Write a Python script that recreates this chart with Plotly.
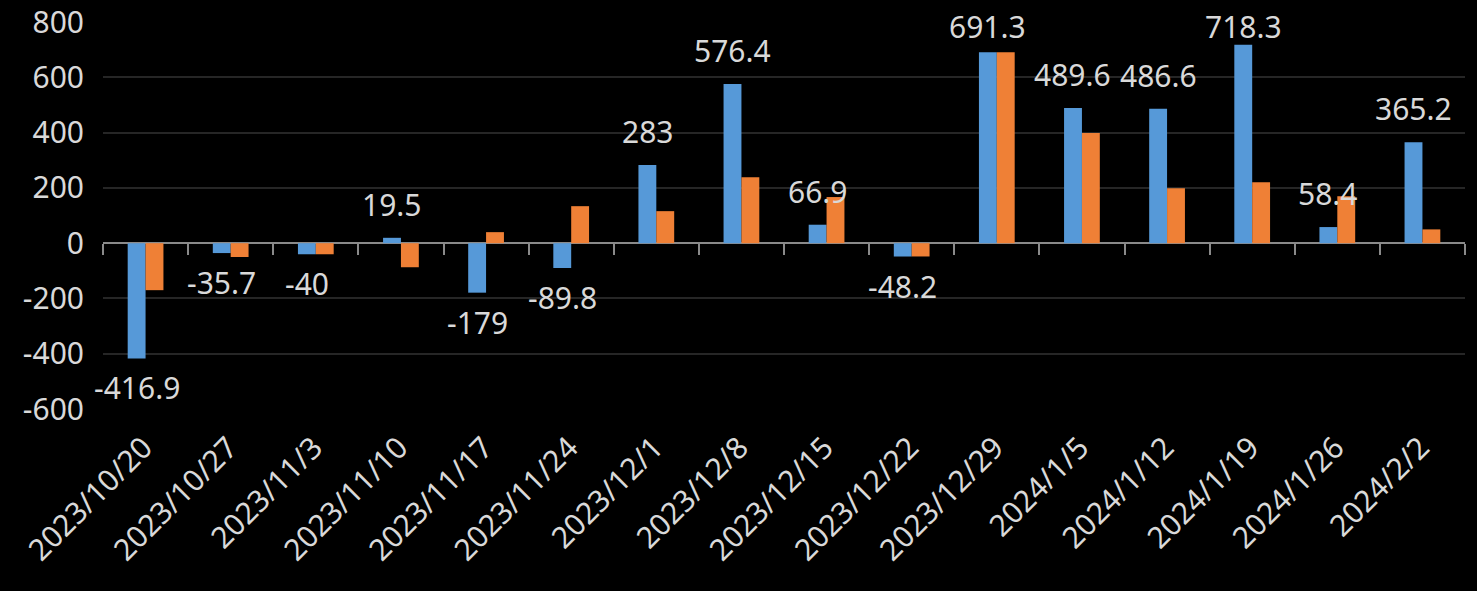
import plotly.graph_objects as go

dates = ["2023/10/20", "2023/10/27", "2023/11/3", "2023/11/10", "2023/11/17",
         "2023/11/24", "2023/12/1", "2023/12/8", "2023/12/15", "2023/12/22",
         "2023/12/29", "2024/1/5", "2024/1/12", "2024/1/19", "2024/1/26", "2024/2/2"]
blue_vals = [-416.9, -35.7, -40, 19.5, -179, -89.8, 283, 576.4, 66.9, -48.2,
             691.3, 489.6, 486.6, 718.3, 58.4, 365.2]
orange_vals = [-170, -50, -40, -87, 40, 134, 116, 239, 167, -48,
               691, 399, 199, 221, 170, 50]
y_ticks = [-600, -400, -200, 0, 200, 400, 600, 800]

font_family = "Noto Sans, Open Sans, sans-serif"
txt_color = "#d9d9d9"

W, H = 1477, 591
M_T, M_B = 22, 182
Y_MIN, Y_MAX = -600, 800
px_per_unit = (H - M_T - M_B) / (Y_MAX - Y_MIN)

fig = go.Figure()
fig.add_trace(go.Bar(x=dates, y=blue_vals, name="blue",
                     marker=dict(color="#5699d8", line=dict(width=0))))
fig.add_trace(go.Bar(x=dates, y=orange_vals, name="orange",
                     marker=dict(color="#ef8036", line=dict(width=0))))
# helper trace so the zero-crossing tick axis gets drawn
fig.add_trace(go.Scatter(x=dates, y=[None] * len(dates), xaxis="x2",
                         showlegend=False, hoverinfo="skip"))

# value labels for the blue series, over / under the blue bar,
# pushed down if they would run over the top of the chart (like Excel does)
for d, v in zip(dates, blue_vals):
    if v >= 0:
        room = (Y_MAX - v) * px_per_unit + M_T - 12 - 36  # space above label box
        shift = 11 + min(0, room - 12)
        fig.add_annotation(x=d, y=v, text=str(v), showarrow=False,
                           xshift=-9, yshift=shift, yanchor="bottom",
                           font=dict(size=30, color=txt_color, family=font_family))
    else:
        fig.add_annotation(x=d, y=v, text=str(v), showarrow=False,
                           xshift=-9, yshift=-7, yanchor="top",
                           font=dict(size=30, color=txt_color, family=font_family))

fig.update_layout(
    width=W, height=H,
    paper_bgcolor="black", plot_bgcolor="black",
    margin=dict(l=103, r=12, t=M_T, b=M_B),
    barmode="group", bargap=0.58, bargroupgap=0,
    showlegend=False,
    font=dict(family=font_family, color=txt_color),
    xaxis=dict(type="category", categoryarray=dates, range=[-0.5, 15.5],
               tickangle=-45, tickfont=dict(size=30, color=txt_color),
               ticklabelstandoff=14, ticklabelshift=-2, automargin=False,
               showgrid=False, showline=False, ticks=""),
    xaxis2=dict(type="category", categoryarray=dates, range=[-0.5, 15.5],
                overlaying="x", anchor="free", position=-Y_MIN / (Y_MAX - Y_MIN),
                showticklabels=False, showgrid=False, showline=False,
                ticks="outside", tickson="boundaries", ticklen=11,
                tickwidth=2, tickcolor="#8a8a8a", automargin=False),
    yaxis=dict(range=[Y_MIN, Y_MAX + 0.5], tickmode="array", tickvals=y_ticks,
               ticktext=[str(t) for t in y_ticks],
               tickfont=dict(size=30, color=txt_color),
               gridcolor="#262626", gridwidth=2,
               zeroline=True, zerolinecolor="#8a8a8a", zerolinewidth=2,
               ticklabelstandoff=18, automargin=False),
)

fig.write_html("out.html", config={"displayModeBar": False},
               post_script="document.body.style.margin='0';document.body.style.background='black';")
